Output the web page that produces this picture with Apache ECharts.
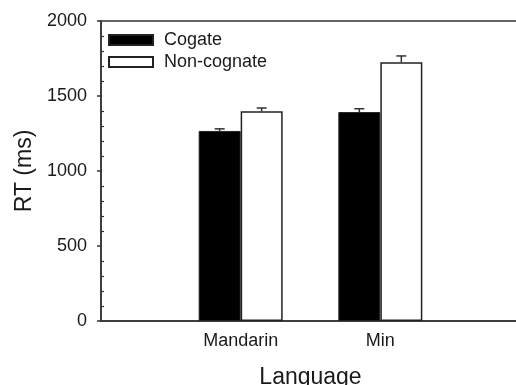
<!DOCTYPE html>
<html>
<head>
<meta charset="utf-8">
<script src="https://cdn.jsdelivr.net/npm/echarts@6/dist/echarts.min.js"></script>
<style>html,body{margin:0;padding:0;background:#fff}#c{width:516px;height:385px}</style>
</head>
<body>
<div id="c"></div>
<script>
var categories = ['', 'Mandarin', 'Min', ''];
var cogate = ['-', 1267, 1393, '-'];
var nonCognate = ['-', 1398, 1725, '-'];
var cogateErr = ['-', 14, 22, '-'];
var nonCognateErr = ['-', 22, 42, '-'];
var yTicks = { min: 0, max: 2000, interval: 500 };

var BAR_W = 42;
var FONT = '"Liberation Sans", Arial, sans-serif';
var TXT = '#1a1a1a';
var LINE = '#333';

function errItem(values, errs, side) {
  return function (params, api) {
    var i = api.value(0);
    var v = values[i], e = errs[i];
    if (v === '-' || e === '-') return null;
    var base = api.coord([i, v]);
    var top = api.coord([i, v + e]);
    var x = base[0] + side * BAR_W / 2;
    var s = { stroke: LINE, lineWidth: 1.5 };
    return {
      type: 'group',
      children: [
        { type: 'line', shape: { x1: x, y1: base[1], x2: x, y2: top[1] }, style: s },
        { type: 'line', shape: { x1: x - 5, y1: top[1], x2: x + 5, y2: top[1] }, style: s }
      ]
    };
  };
}

var chart = echarts.init(document.getElementById('c'), null, { renderer: 'canvas' });
chart.setOption({
  animation: false,
  textStyle: { fontFamily: FONT, color: TXT },
  grid: { left: 101, right: -4, top: 21, bottom: 64, outerBoundsMode: 'none', containLabel: false, show: true, borderColor: LINE, borderWidth: 1.5, backgroundColor: 'transparent' },
  legend: {
    orient: 'vertical', left: 108, top: 31, padding: 0, itemGap: 4,
    itemWidth: 44, itemHeight: 10, icon: 'rect',
    textStyle: { fontSize: 18, color: TXT, fontFamily: FONT, lineHeight: 18, padding: [0, 0, 0, 6] },
    data: ['Cogate', 'Non-cognate']
  },
  xAxis: {
    type: 'category', data: categories, boundaryGap: false,
    name: 'Language', nameLocation: 'middle', nameGap: 45,
    nameTextStyle: { fontSize: 23, color: TXT, fontFamily: FONT },
    axisLine: { lineStyle: { color: LINE, width: 1.5 } },
    axisTick: { show: false },
    axisLabel: { fontSize: 18, color: TXT, margin: 11, fontFamily: FONT },
    splitLine: { show: false }
  },
  yAxis: {
    type: 'value', min: yTicks.min, max: yTicks.max, interval: yTicks.interval,
    name: 'RT (ms)', nameLocation: 'middle', nameGap: 64, nameRotate: 90,
    nameTextStyle: { fontSize: 23, color: TXT, fontFamily: FONT },
    axisLine: { show: true, lineStyle: { color: LINE, width: 1.5 } },
    axisTick: { show: true, length: 4, lineStyle: { color: LINE, width: 1.5 } },
    minorTick: { show: true, splitNumber: 5, length: -3, lineStyle: { color: LINE, width: 1.2 } },
    axisLabel: { fontSize: 18, color: TXT, margin: 14, fontFamily: FONT, formatter: function (v) { return String(v); } },
    splitLine: { show: false }
  },
  series: [
    {
      name: 'Cogate', type: 'bar', data: cogate, barWidth: BAR_W, barGap: '0%',
      itemStyle: { color: '#000', borderColor: '#222', borderWidth: 1 }
    },
    {
      name: 'Non-cognate', type: 'bar', data: nonCognate, barWidth: BAR_W, barGap: '0%',
      itemStyle: { color: '#fff', borderColor: '#222', borderWidth: 1.5 }
    },
    {
      type: 'custom', renderItem: errItem(cogate, cogateErr, -1),
      data: categories.map(function (c, i) { return [i]; }), z: 3, silent: true
    },
    {
      type: 'custom', renderItem: errItem(nonCognate, nonCognateErr, 1),
      data: categories.map(function (c, i) { return [i]; }), z: 3, silent: true
    }
  ]
});
</script>
</body>
</html>
